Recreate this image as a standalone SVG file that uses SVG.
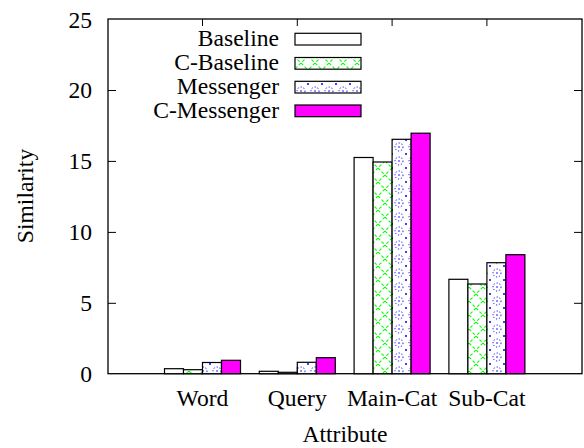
<svg xmlns="http://www.w3.org/2000/svg" width="584" height="448" viewBox="0 0 584 448">
<style>
text{font-size:23.6px;fill:#000}
.yl{text-anchor:end}
.xl{text-anchor:middle}
.lg{text-anchor:end}
.tick{stroke:#000;stroke-width:1}
.frame{fill:none;stroke:#000;stroke-width:1.3}
.bar{stroke:#000;stroke-width:1.2}
.b0{fill:#fff}
.b1{fill:url(#pGreen)}
.b2{fill:url(#pBlue)}
.b3{fill:#ff00ff}
</style>
<defs>
<pattern id="pGreen" patternUnits="userSpaceOnUse" x="0" y="0" width="14" height="14">
<rect width="14" height="14" fill="#fff"/>
<path d="M0 0L14 14M14 0L0 14" stroke="#00ff00" stroke-width="1.1" stroke-dasharray="3 2" fill="none"/>
</pattern>
<pattern id="pBlue" patternUnits="userSpaceOnUse" x="0" y="0" width="14" height="14">
<rect width="14" height="14" fill="#fff"/>
<circle cx="7" cy="7" r="4" fill="none" stroke="#0000ff" stroke-width="1" stroke-dasharray="1.2 1.8"/>
<circle cx="0" cy="0" r="1" fill="#0000ff"/>
<circle cx="14" cy="0" r="1" fill="#0000ff"/>
<circle cx="0" cy="14" r="1" fill="#0000ff"/>
<circle cx="14" cy="14" r="1" fill="#0000ff"/>
<circle cx="7" cy="7" r="0.8" fill="#0000ff"/>
</pattern>
</defs>
<g id="axes" font-family="'Liberation Serif', Tinos, 'Times New Roman', 'DejaVu Serif', serif">
<rect class="frame" x="108" y="19" width="474" height="354.7"/>
<path class="tick" d="M108 303.3h8M108 232.4h8M108 161.4h8M108 90.5h8M582 303.3h-8M582 232.4h-8M582 161.4h-8M582 90.5h-8M202.5 19v7M297.3 19v7M392.1 19v7M486.9 19v7M202.5 373.7v-7M297.3 373.7v-7M392.1 373.7v-7M486.9 373.7v-7"/>
<text class="yl" x="92" y="382">0</text>
<text class="yl" x="92" y="311">5</text>
<text class="yl" x="92" y="240">10</text>
<text class="yl" x="92" y="169">15</text>
<text class="yl" x="92" y="98">20</text>
<text class="yl" x="92" y="28">25</text>
<text class="xl" x="202.5" y="406">Word</text>
<text class="xl" x="297.3" y="406">Query</text>
<text class="xl" x="392.1" y="406">Main-Cat</text>
<text class="xl" x="486.9" y="406">Sub-Cat</text>
<text class="xl" x="345" y="442">Attribute</text>
<text class="xl" transform="translate(33 196) rotate(-90)" x="0" y="0">Similarity</text>
</g>
<g id="bars">
<g id="word">
<rect class="bar b0" x="164.5" y="368.7" width="19" height="5"/>
<rect class="bar b1" x="183.5" y="369.7" width="19" height="4"/>
<rect class="bar b2" x="202.5" y="362.5" width="19" height="11.2"/>
<rect class="bar b3" x="221.5" y="360.3" width="19" height="13.4"/>
</g>
<g id="query">
<rect class="bar b0" x="259.3" y="371.3" width="19" height="2.4"/>
<rect class="bar b1" x="278.3" y="372.3" width="19" height="1.4"/>
<rect class="bar b2" x="297.3" y="362.3" width="19" height="11.4"/>
<rect class="bar b3" x="316.3" y="357.7" width="19" height="16"/>
</g>
<g id="maincat">
<rect class="bar b0" x="354.1" y="157.5" width="19" height="216.2"/>
<rect class="bar b1" x="373.1" y="162" width="19" height="211.7"/>
<rect class="bar b2" x="392.1" y="139.3" width="19" height="234.4"/>
<rect class="bar b3" x="411.1" y="133.2" width="19" height="240.5"/>
</g>
<g id="subcat">
<rect class="bar b0" x="448.9" y="279.3" width="19" height="94.4"/>
<rect class="bar b1" x="467.9" y="284" width="19" height="89.7"/>
<rect class="bar b2" x="486.9" y="262.7" width="19" height="111"/>
<rect class="bar b3" x="505.9" y="254.7" width="19" height="119"/>
</g>
</g>
<g id="legend" font-family="'Liberation Serif', Tinos, 'Times New Roman', 'DejaVu Serif', serif">
<text class="lg" x="279" y="46">Baseline</text>
<rect class="bar b0" x="295" y="33.3" width="66" height="11.7"/>
<text class="lg" x="279" y="70">C-Baseline</text>
<rect class="bar b1" x="295" y="57.5" width="66" height="11.7"/>
<text class="lg" x="279" y="93.7">Messenger</text>
<rect class="bar b2" x="295" y="81.3" width="66" height="11.7"/>
<text class="lg" x="279" y="117.5">C-Messenger</text>
<rect class="bar b3" x="295" y="105" width="66" height="11.7"/>
</g>
</svg>
